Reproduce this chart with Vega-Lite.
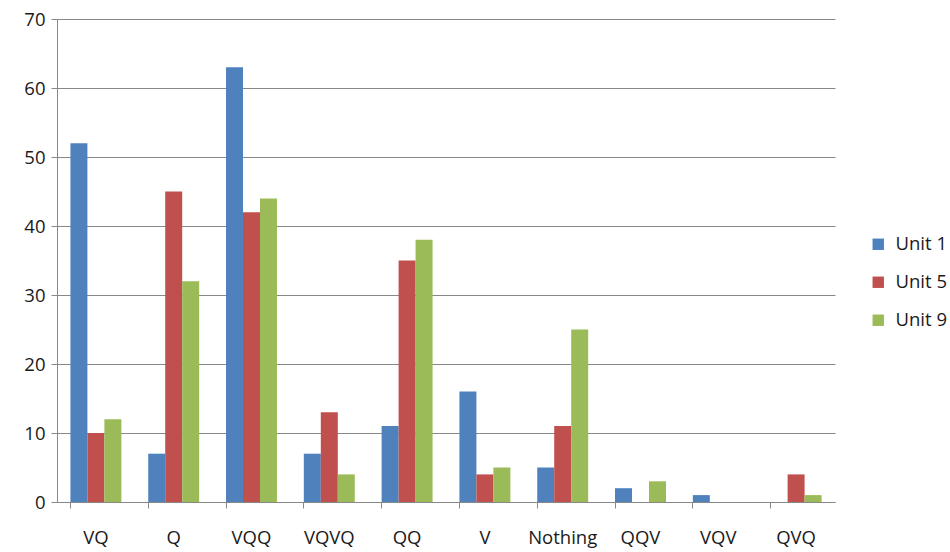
{
  "$schema": "https://vega.github.io/schema/vega-lite/v6.json",
  "autosize": "none",
  "width": 778,
  "height": 483,
  "padding": {"left": 57, "top": 19, "right": 115, "bottom": 50},
  "background": "white",
  "config": {
    "font": "Open Sans",
    "view": {"stroke": null}
  },
  "data": {
    "values": [
      {"category": "VQ", "unit": "Unit 1", "value": 52},
      {"category": "VQ", "unit": "Unit 5", "value": 10},
      {"category": "VQ", "unit": "Unit 9", "value": 12},
      {"category": "Q", "unit": "Unit 1", "value": 7},
      {"category": "Q", "unit": "Unit 5", "value": 45},
      {"category": "Q", "unit": "Unit 9", "value": 32},
      {"category": "VQQ", "unit": "Unit 1", "value": 63},
      {"category": "VQQ", "unit": "Unit 5", "value": 42},
      {"category": "VQQ", "unit": "Unit 9", "value": 44},
      {"category": "VQVQ", "unit": "Unit 1", "value": 7},
      {"category": "VQVQ", "unit": "Unit 5", "value": 13},
      {"category": "VQVQ", "unit": "Unit 9", "value": 4},
      {"category": "QQ", "unit": "Unit 1", "value": 11},
      {"category": "QQ", "unit": "Unit 5", "value": 35},
      {"category": "QQ", "unit": "Unit 9", "value": 38},
      {"category": "V", "unit": "Unit 1", "value": 16},
      {"category": "V", "unit": "Unit 5", "value": 4},
      {"category": "V", "unit": "Unit 9", "value": 5},
      {"category": "Nothing", "unit": "Unit 1", "value": 5},
      {"category": "Nothing", "unit": "Unit 5", "value": 11},
      {"category": "Nothing", "unit": "Unit 9", "value": 25},
      {"category": "QQV", "unit": "Unit 1", "value": 2},
      {"category": "QQV", "unit": "Unit 5", "value": 0},
      {"category": "QQV", "unit": "Unit 9", "value": 3},
      {"category": "VQV", "unit": "Unit 1", "value": 1},
      {"category": "VQV", "unit": "Unit 5", "value": 0},
      {"category": "VQV", "unit": "Unit 9", "value": 0},
      {"category": "QVQ", "unit": "Unit 1", "value": 0},
      {"category": "QVQ", "unit": "Unit 5", "value": 4},
      {"category": "QVQ", "unit": "Unit 9", "value": 1}
    ]
  },
  "mark": {"type": "bar"},
  "encoding": {
    "x": {
      "field": "category",
      "type": "nominal",
      "sort": ["VQ", "Q", "VQQ", "VQVQ", "QQ", "V", "Nothing", "QQV", "VQV", "QVQ"],
      "scale": {"paddingInner": 0.345, "paddingOuter": 0.1725},
      "axis": {
        "title": null,
        "labelAngle": 0,
        "labelFontSize": 18.5,
        "labelColor": "#1a1a1a",
        "labelPadding": 20,
        "bandPosition": 0,
        "tickSize": 6,
        "tickColor": "#888888",
        "domainColor": "#888888",
        "grid": false
      }
    },
    "xOffset": {
      "field": "unit",
      "type": "nominal",
      "scale": {"paddingInner": 0, "paddingOuter": 0}
    },
    "y": {
      "field": "value",
      "type": "quantitative",
      "scale": {"domain": [0, 70], "nice": false},
      "axis": {
        "title": null,
        "values": [0, 10, 20, 30, 40, 50, 60, 70],
        "labelFontSize": 18.5,
        "labelColor": "#1a1a1a",
        "labelPadding": 6,
        "tickSize": 6,
        "tickColor": "#888888",
        "domainColor": "#888888",
        "gridColor": "#888888",
        "gridWidth": 1
      }
    },
    "color": {
      "field": "unit",
      "type": "nominal",
      "scale": {"domain": ["Unit 1", "Unit 5", "Unit 9"], "range": ["#4F81BD", "#C0504D", "#9BBB59"]},
      "legend": {
        "title": null,
        "orient": "none",
        "legendX": 812,
        "legendY": 216,
        "symbolType": "square",
        "symbolSize": 130,
        "labelFontSize": 18.5,
        "labelColor": "#1a1a1a",
        "rowPadding": 19,
        "labelOffset": 8
      }
    }
  }
}
